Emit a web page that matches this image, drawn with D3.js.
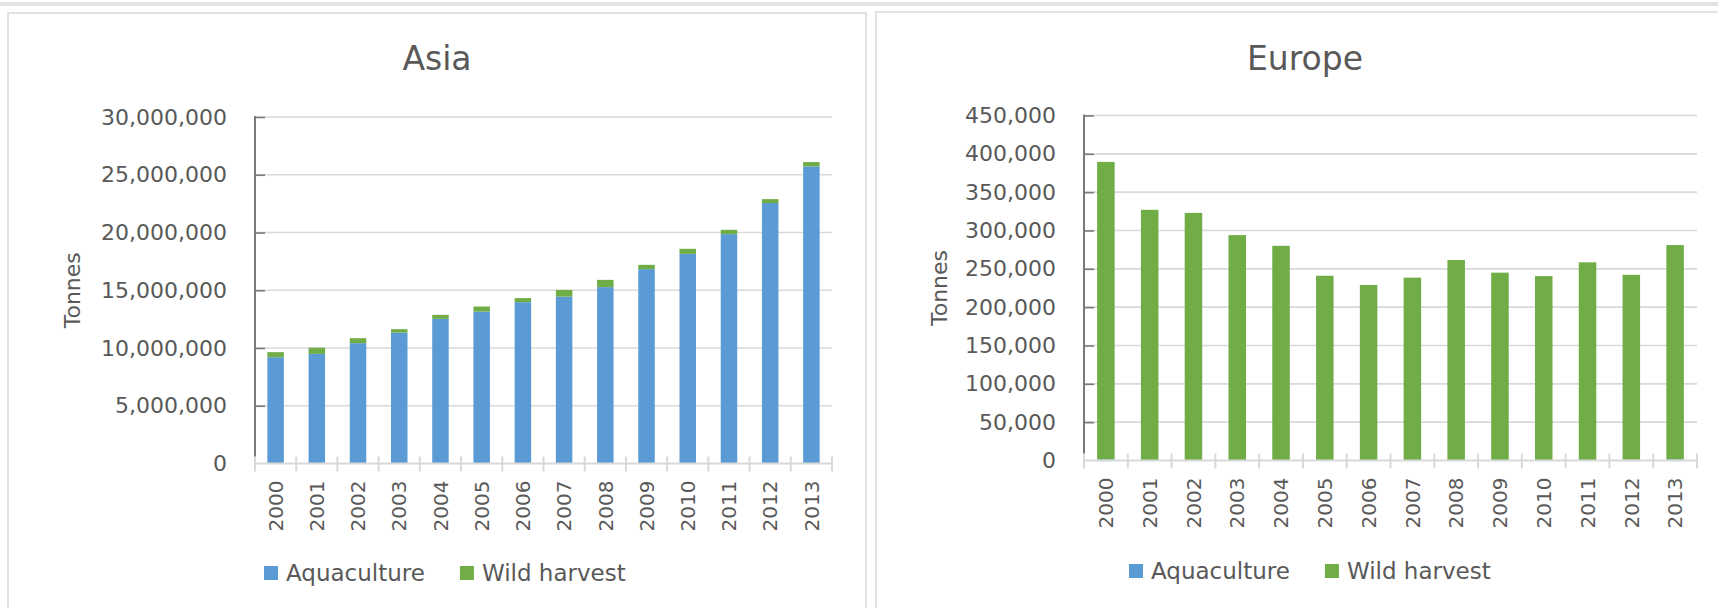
<!DOCTYPE html>
<html>
<head>
<meta charset="utf-8">
<script src="https://cdn.jsdelivr.net/npm/d3@7"></script>
<style>
  html, body { margin: 0; padding: 0; background: #ffffff; }
  svg { display: block; }
  text { font-family: "DejaVu Sans", sans-serif; fill: #595959; }
</style>
</head>
<body>
<svg id="chart" width="1718" height="608"></svg>
<script>
// ---------- data ----------
const years = ["2000","2001","2002","2003","2004","2005","2006","2007","2008","2009","2010","2011","2012","2013"];
const seriesNames = ["Aquaculture", "Wild harvest"];
const seriesColors = ["#5b9bd5", "#70ad47"];

const asiaAquaculture = [9200000, 9490000, 10420000, 11330000, 12520000, 13150000, 13970000, 14450000, 15270000, 16830000, 18150000, 19860000, 22550000, 25720000];
const asiaWildHarvest = [440000, 540000, 430000, 300000, 350000, 440000, 350000, 580000, 630000, 370000, 440000, 370000, 340000, 380000];
const asiaTicks = [0, 5000000, 10000000, 15000000, 20000000, 25000000, 30000000];

const europeAquaculture = [1500, 0, 0, 0, 0, 0, 0, 0, 0, 0, 0, 0, 1200, 1500];
const europeWildHarvest = [388000, 327000, 323000, 294000, 280000, 241000, 229000, 238500, 261500, 245000, 240500, 258500, 241000, 279500];
const europeTicks = [0, 50000, 100000, 150000, 200000, 250000, 300000, 350000, 400000, 450000];

// ---------- drawing ----------
const svg = d3.select("#chart");
const fmt = d3.format(",");

// outer frame
svg.append("line").attr("x1", 0).attr("x2", 1718).attr("y1", 4).attr("y2", 4)
  .attr("stroke", "#e3e3e3").attr("stroke-width", 4);
svg.append("rect").attr("x", 8).attr("y", 13).attr("width", 858).attr("height", 610)
  .attr("fill", "#fff").attr("stroke", "#d9d9d9").attr("stroke-width", 1.5);
svg.append("rect").attr("x", 876).attr("y", 12).attr("width", 860).attr("height", 610)
  .attr("fill", "#fff").attr("stroke", "#d9d9d9").attr("stroke-width", 1.5);

function drawPanel(cfg) {
  const g = svg.append("g");
  const rows = years.map((yr, i) => ({ year: yr, a: cfg.aqua[i], w: cfg.wild[i] }));
  const stacked = d3.stack().keys(["a", "w"])(rows);

  const x = d3.scaleBand().domain(years).range([cfg.left, cfg.right])
    .paddingInner(0.6).paddingOuter(0.3);
  const y = d3.scaleLinear().domain([0, cfg.max]).range([cfg.bottom, cfg.top]);

  // gridlines
  g.append("g").selectAll("line").data(cfg.ticks.filter(t => t > 0)).join("line")
    .attr("x1", cfg.left).attr("x2", cfg.right)
    .attr("y1", d => y(d)).attr("y2", d => y(d))
    .attr("stroke", "#d9d9d9").attr("stroke-width", 1.6);

  // bars
  g.append("g").selectAll("g").data(stacked).join("g")
    .attr("fill", (d, i) => seriesColors[i])
    .selectAll("rect").data(d => d).join("rect")
    .attr("x", d => x(d.data.year))
    .attr("width", x.bandwidth())
    .attr("y", d => y(d[1]))
    .attr("height", d => Math.max(0, y(d[0]) - y(d[1])));

  // x baseline + crossing ticks
  g.append("line").attr("x1", cfg.left).attr("x2", cfg.right)
    .attr("y1", cfg.bottom).attr("y2", cfg.bottom)
    .attr("stroke", "#d9d9d9").attr("stroke-width", 2);
  const bounds = d3.range(years.length + 1).map(i => cfg.left + i * x.step());
  g.append("g").selectAll("line").data(bounds).join("line")
    .attr("x1", d => d).attr("x2", d => d)
    .attr("y1", cfg.bottom - 7).attr("y2", cfg.bottom + 8)
    .attr("stroke", "#d9d9d9").attr("stroke-width", 2);

  // x labels
  const xAxis = g.append("g").attr("transform", `translate(0,${cfg.bottom})`)
    .call(d3.axisBottom(x).tickSize(0).tickPadding(0));
  xAxis.select(".domain").remove();
  xAxis.selectAll("text")
    .attr("transform", "rotate(-90)")
    .attr("text-anchor", "end")
    .attr("x", -17).attr("y", 0).attr("dy", "0.36em")
    .style("font-size", "20px").attr("fill", "#595959");

  // y axis
  const yAxis = g.append("g").attr("transform", `translate(${cfg.left},0)`)
    .call(d3.axisLeft(y).tickValues(cfg.ticks).tickFormat(fmt).tickSize(-10).tickPadding(28));
  yAxis.select(".domain").remove();
  yAxis.selectAll(".tick line").attr("stroke", "#7a7a7a").attr("stroke-width", 1.6)
    .filter(d => d === 0).remove();
  yAxis.selectAll("text").style("font-size", "22px").attr("fill", "#595959").attr("font-family", "DejaVu Sans");
  g.append("line").attr("x1", cfg.left).attr("x2", cfg.left)
    .attr("y1", cfg.top - 1).attr("y2", cfg.bottom - 7)
    .attr("stroke", "#7a7a7a").attr("stroke-width", 2);

  // titles
  g.append("text").attr("x", cfg.titleX).attr("y", 70).attr("text-anchor", "middle")
    .style("font-size", "33px").text(cfg.title);
  g.append("text").attr("transform", `translate(${cfg.yTitleX},${(cfg.top + cfg.bottom) / 2}) rotate(-90)`)
    .attr("text-anchor", "middle").attr("dy", "0.35em")
    .style("font-size", "22px").text("Tonnes");

  // legend
  let lx = cfg.legendX;
  const ly = cfg.legendY;
  seriesNames.forEach((name, i) => {
    g.append("rect").attr("x", lx).attr("y", ly - 7).attr("width", 14).attr("height", 14)
      .attr("fill", seriesColors[i]);
    const t = g.append("text").attr("x", lx + 22).attr("y", ly).attr("dy", "0.35em")
      .style("font-size", "23px").text(name);
    lx = lx + 22 + t.node().getComputedTextLength() + 35;
  });
}

drawPanel({
  title: "Asia", aqua: asiaAquaculture, wild: asiaWildHarvest, ticks: asiaTicks, max: 30000000,
  left: 255, right: 832, top: 117, bottom: 463.5,
  titleX: 437, yTitleX: 72, legendX: 264, legendY: 573
});
drawPanel({
  title: "Europe", aqua: europeAquaculture, wild: europeWildHarvest, ticks: europeTicks, max: 450000,
  left: 1084, right: 1697, top: 115.5, bottom: 460.5,
  titleX: 1305, yTitleX: 939, legendX: 1129, legendY: 571
});
</script>
</body>
</html>
